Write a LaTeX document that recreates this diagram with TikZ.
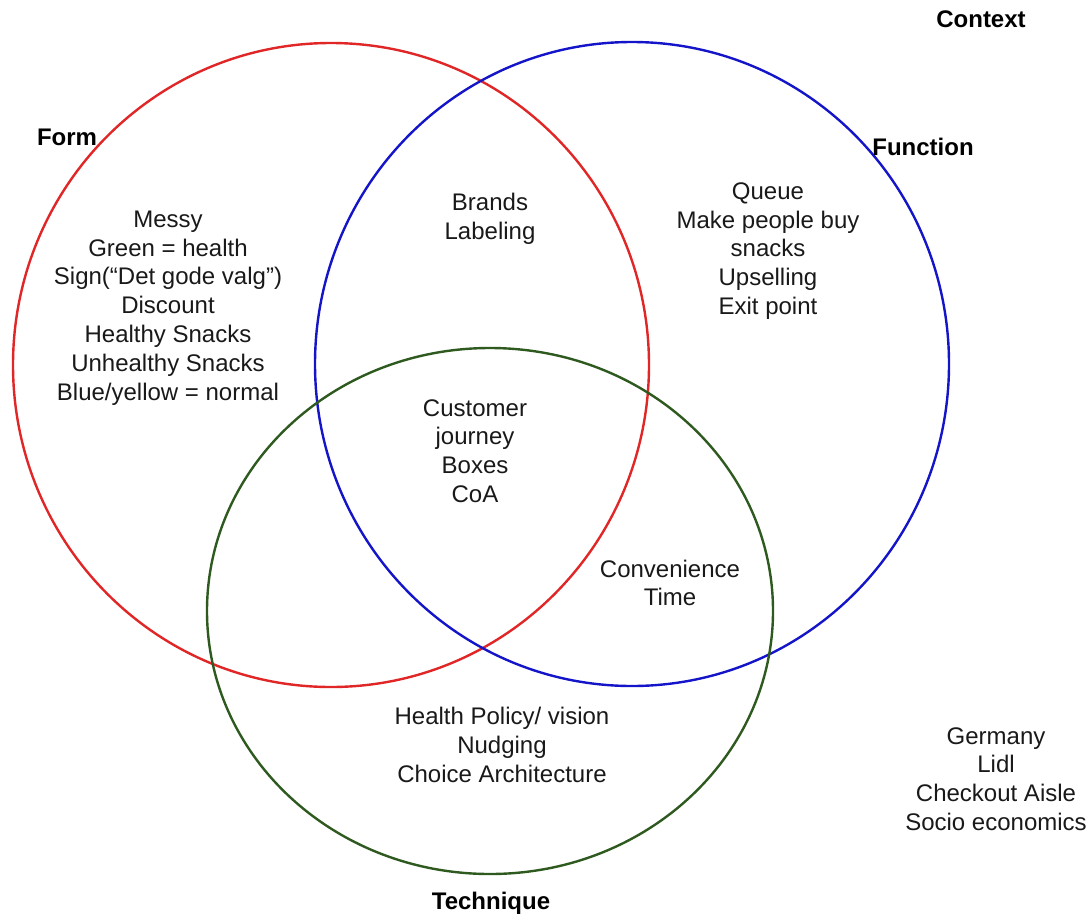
\documentclass[tikz,border=0pt]{standalone}
\usepackage{fontspec}
\setmainfont{Liberation Sans}
\usepackage{tikz}

\definecolor{formred}{HTML}{E02626}
\definecolor{funcblue}{HTML}{1414C8}
\definecolor{techgreen}{HTML}{2F5A1F}

\begin{document}
\begin{tikzpicture}[x=1pt,y=-1pt,
    set/.style={line width=2.4pt},
    items/.style={align=center,inner sep=0pt,text=black!90,font=\fontsize{24}{28.8}\selectfont},
    title/.style={inner sep=0pt,font=\fontsize{24}{28.8}\selectfont\bfseries}]
            \useasboundingbox (0,0) rectangle (1086,916);
            % the three sets
            \draw[set,formred] (331,365) ellipse [x radius=318pt, y radius=322pt];
            \draw[set,funcblue] (632,364) ellipse [x radius=317pt, y radius=322pt];
            \draw[set,techgreen] (490,611) ellipse [x radius=283pt, y radius=263pt];
            % titles
            \node[title] (form) at (67,137) {Form};
            \node[title] (function) at (923,147) {Function};
            \node[title] (context) at (981,19) {Context};
            \node[title] (technique) at (491,903) {Technique};
            % contents
            \node[items] (formitems) at (168,308) {Messy\\Green = health\\Sign(“Det gode valg”)\\Discount\\Healthy Snacks\\Unhealthy Snacks\\Blue/yellow = normal};
            \node[items] (brands) at (490,219) {Brands\\Labeling};
            \node[items] (functionitems) at (768,251) {Queue\\Make people buy\\snacks\\Upselling\\Exit point};
            \node[items] (core) at (475,451) {Customer\\journey\\Boxes\\CoA};
            \node[items] (convenience) at (670,583) {Convenience\\Time};
            \node[items] (techitems) at (502,745) {Health Policy/ vision\\Nudging\\Choice Architecture};
            \node[items] (contextitems) at (996,779) {Germany\\Lidl\\Checkout Aisle\\Socio economics};
        \end{tikzpicture}
\end{document}
